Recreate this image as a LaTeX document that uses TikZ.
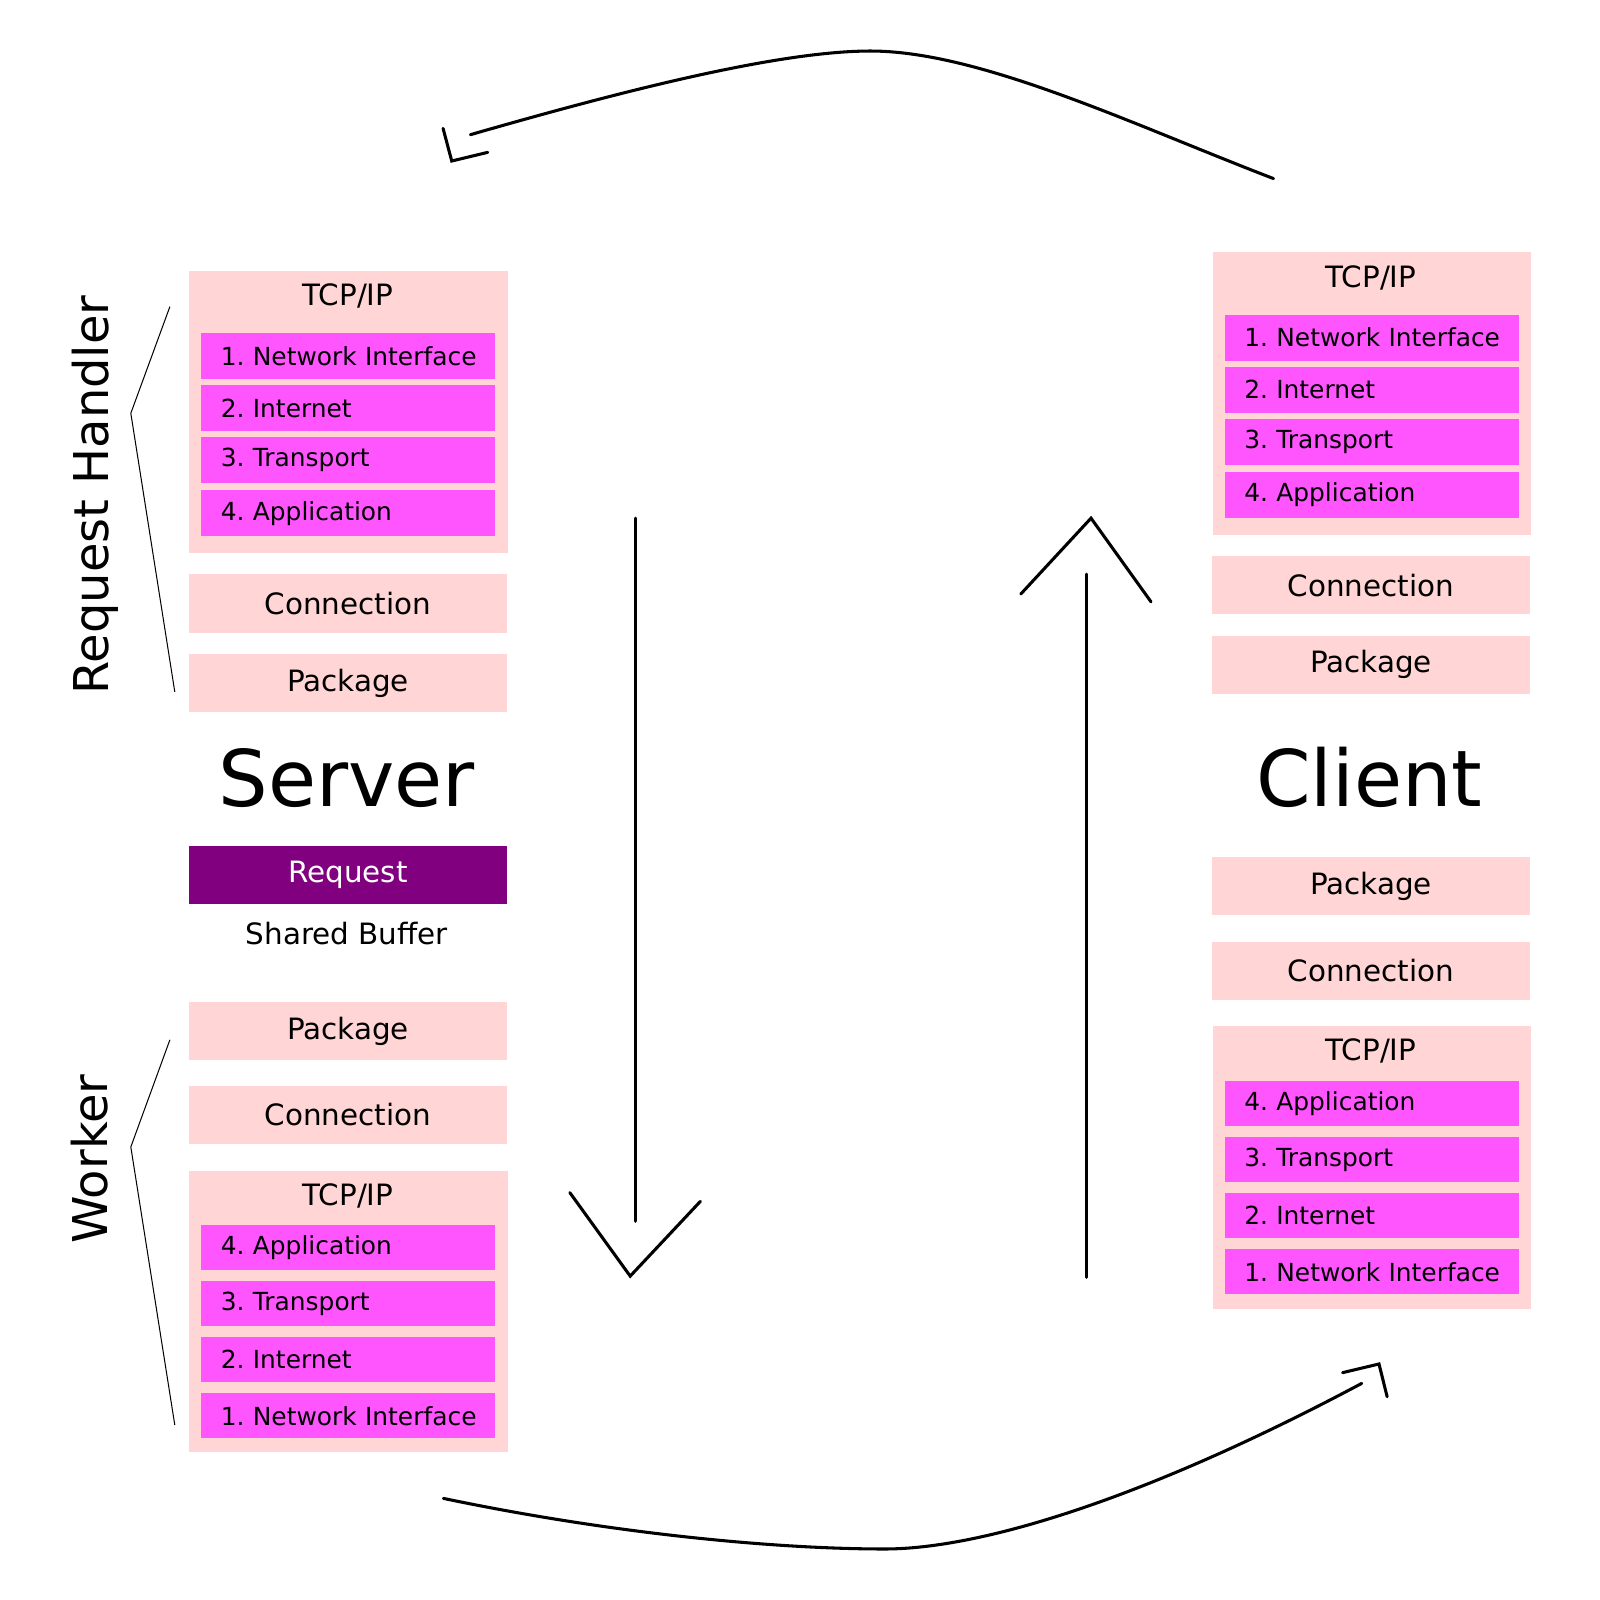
\documentclass[tikz,border=0pt]{standalone}
\usepackage{fontspec}
\setmainfont{DejaVu Sans}
\frenchspacing
\definecolor{boxpink}{HTML}{FFD5D5}
\definecolor{layermag}{HTML}{FF55FF}
\definecolor{reqpurple}{HTML}{800080}
\tikzset{
  blk/.style={fill=boxpink, minimum width=156pt, minimum height=28.5pt, inner sep=0pt, font=\fontsize{14.4pt}{17pt}\selectfont},
  tcpbox/.style={fill=boxpink, minimum width=156pt, inner sep=0pt, anchor=north west},
  layerbox/.style={fill=layermag, anchor=north west, inner sep=0pt, text width=144pt, align=left, minimum height=22.5pt, font=\fontsize{12.2pt}{14pt}\selectfont, execute at begin node={\hspace*{9.5pt}}},
  ttl/.style={font=\fontsize{14.4pt}{17pt}\selectfont, inner sep=0pt},
  big/.style={font=\fontsize{38.3pt}{46pt}\selectfont, inner sep=0pt},
  side/.style={font=\fontsize{23.5pt}{28pt}\selectfont, inner sep=0pt, rotate=90},
  flow/.style={line width=1.5pt, line cap=round, line join=miter},
  brace/.style={line width=0.5pt},
}
\begin{document}
\begin{tikzpicture}[x=0.5pt,y=-0.5pt]
\useasboundingbox (0,0) rectangle (1568,1568);
% ---------- Server: request handler ----------
\node[tcpbox, minimum height=138.5pt] (stcp) at (185,265) {};
\node[ttl] (stcpT) at (341,290) {TCP/IP};
\node[layerbox] (sa1) at (197,326) {1. Network Interface};
\node[layerbox] (sa2) at (197,377) {2. Internet};
\node[layerbox] (sa3) at (197,428) {3. Transport};
\node[layerbox] (sa4) at (197,480) {4. Application};
\node[blk] (scon) at (341,591.5) {Connection};
\node[blk] (spkg) at (341,669.5) {Package};
\node[big] (server) at (340,762) {Server};
\node[blk, fill=reqpurple, text=white] (sreq) at (341,857.5) {Request};
\node[ttl] (sbuf) at (340,915) {Shared Buffer};
% ---------- Server: worker ----------
\node[blk] (wpkg) at (341,1010.5) {Package};
\node[blk] (wcon) at (341,1092.5) {Connection};
\node[tcpbox, minimum height=138pt] (wtcp) at (185,1147) {};
\node[ttl] (wtcpT) at (341,1172) {TCP/IP};
\node[layerbox, minimum height=22pt] (wb4) at (197,1200) {4. Application};
\node[layerbox, minimum height=22pt] (wb3) at (197,1255) {3. Transport};
\node[layerbox, minimum height=22pt] (wb2) at (197,1310) {2. Internet};
\node[layerbox, minimum height=22pt] (wb1) at (197,1365) {1. Network Interface};
% ---------- side labels ----------
\node[side] (lrh) at (93,485) {Request Handler};
\node[side] (lwk) at (88,1136) {Worker};
\coordinate (rhA) at (166.5,300.5);
\coordinate (rhB) at (128.2,405);
\coordinate (rhC) at (171.3,678);
\draw[brace] (rhA) -- (rhB) -- (rhC);
\coordinate (wkA) at (166.5,1019);
\coordinate (wkB) at (128.2,1124);
\coordinate (wkC) at (171.3,1396.5);
\draw[brace] (wkA) -- (wkB) -- (wkC);
% ---------- Client ----------
\node[tcpbox, minimum height=138.5pt] (ctcp) at (1188,247) {};
\node[ttl] (ctcpT) at (1343.5,272) {TCP/IP};
\node[layerbox] (ca1) at (1200,308) {1. Network Interface};
\node[layerbox] (ca2) at (1200,359) {2. Internet};
\node[layerbox] (ca3) at (1200,410) {3. Transport};
\node[layerbox] (ca4) at (1200,462) {4. Application};
\node[blk] (ccon) at (1343.5,573.5) {Connection};
\node[blk] (cpkg) at (1343.5,651.5) {Package};
\node[big] (client) at (1342,762) {Client};
\node[blk] (cpkg2) at (1343.5,868.5) {Package};
\node[blk] (ccon2) at (1343.5,951.5) {Connection};
\node[tcpbox, minimum height=138.5pt] (ctcp2) at (1188,1005) {};
\node[ttl] (ctcp2T) at (1343.5,1030) {TCP/IP};
\node[layerbox, minimum height=22pt] (cb4) at (1200,1059) {4. Application};
\node[layerbox, minimum height=22pt] (cb3) at (1200,1114) {3. Transport};
\node[layerbox, minimum height=22pt] (cb2) at (1200,1169) {2. Internet};
\node[layerbox, minimum height=22pt] (cb1) at (1200,1224) {1. Network Interface};
% ---------- vertical arrows ----------
\coordinate (dTop) at (622.4,507.8);
\coordinate (dBot) at (622.4,1196.8);
\coordinate (dL) at (558.4,1168.7);
\coordinate (dTip) at (617.6,1250.6);
\coordinate (dR) at (686.4,1177.3);
\draw[flow] (dTop) -- (dBot);
\draw[flow] (dL) -- (dTip) -- (dR);
\coordinate (uBot) at (1064.4,1251.7);
\coordinate (uTop) at (1064.4,562.6);
\coordinate (uL) at (1000.4,582.1);
\coordinate (uTip) at (1069.2,507.8);
\coordinate (uR) at (1128,589.8);
\draw[flow] (uBot) -- (uTop);
\draw[flow] (uL) -- (uTip) -- (uR);
% ---------- curved arrows ----------
\coordinate (tS) at (1248,175);
\coordinate (tP) at (853,50);
\coordinate (tE) at (461,132);
\draw[flow] (tS) .. controls (1110,122) and (960,50) .. (tP) .. controls (760,50) and (600,92) .. (tE);
\coordinate (tH1) at (434.2,125.8);
\coordinate (tH2) at (442.7,157.8);
\coordinate (tH3) at (478,149.3);
\draw[flow] (tH1) -- (tH2) -- (tH3);
\coordinate (bS) at (434.5,1468.4);
\coordinate (bM) at (867,1518);
\coordinate (bE) at (1334.5,1355.7);
\draw[flow] (bS) .. controls (600,1503) and (760,1518) .. (bM) .. controls (960,1518) and (1120,1470) .. (bE);
\coordinate (bH1) at (1315.7,1345.2);
\coordinate (bH2) at (1351.4,1336.7);
\coordinate (bH3) at (1359.4,1368.8);
\draw[flow] (bH1) -- (bH2) -- (bH3);
\end{tikzpicture}
\end{document}
